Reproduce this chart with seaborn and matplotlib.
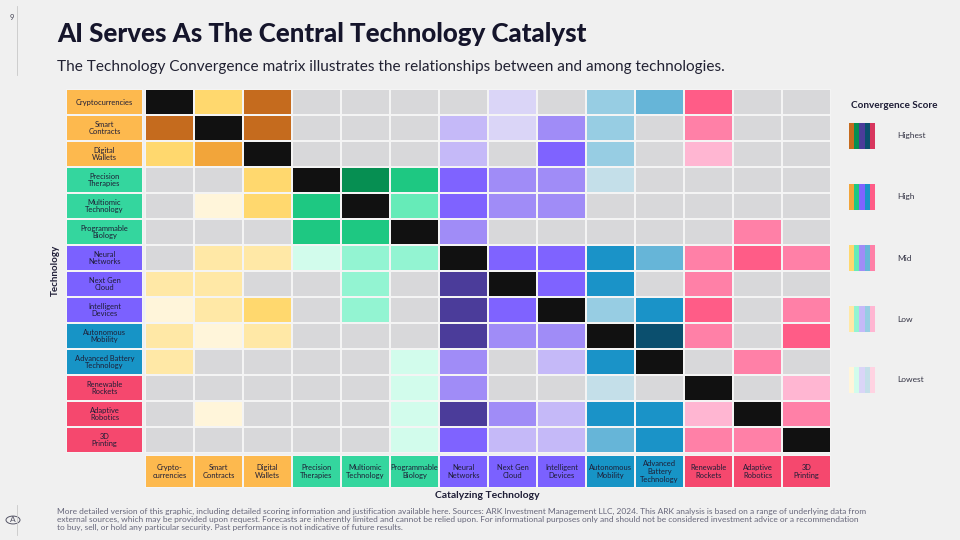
import numpy as np
import pandas as pd
import matplotlib.pyplot as plt
import seaborn as sns
from matplotlib.colors import ListedColormap
from matplotlib.patches import Rectangle, Circle
from matplotlib.lines import Line2D

# 데이터
row_labels = ['Cryptocurrencies', 'Smart\nContracts', 'Digital\nWallets', 'Precision\nTherapies',
              'Multiomic\nTechnology', 'Programmable\nBiology', 'Neural\nNetworks', 'Next Gen\nCloud',
              'Intelligent\nDevices', 'Autonomous\nMobility', 'Advanced Battery\nTechnology',
              'Renewable\nRockets', 'Adaptive\nRobotics', '3D\nPrinting']
col_labels = ['Crypto-\ncurrencies', 'Smart\nContracts', 'Digital\nWallets', 'Precision\nTherapies',
              'Multiomic\nTechnology', 'Programmable\nBiology', 'Neural\nNetworks', 'Next Gen\nCloud',
              'Intelligent\nDevices', 'Autonomous\nMobility', 'Advanced\nBattery\nTechnology',
              'Renewable\nRockets', 'Adaptive\nRobotics', '3D\nPrinting']
# 기술 그룹 (0 crypto, 1 bio, 2 AI, 3 mobility, 4 robotics/space)
tech_group = [0, 0, 0, 1, 1, 1, 2, 2, 2, 3, 3, 4, 4, 4]

# 점수: 0 없음, 1 Lowest ... 5 Highest (대각선은 자기 자신)
scores = [
    [0, 3, 5, 0, 0, 0, 0, 1, 0, 2, 3, 4, 0, 0],
    [5, 0, 5, 0, 0, 0, 2, 1, 3, 2, 0, 3, 0, 0],
    [3, 4, 0, 0, 0, 0, 2, 0, 4, 2, 0, 2, 0, 0],
    [0, 0, 3, 0, 5, 4, 4, 3, 3, 1, 0, 0, 0, 0],
    [0, 1, 3, 4, 0, 3, 4, 3, 3, 0, 0, 0, 0, 0],
    [0, 0, 0, 4, 4, 0, 3, 0, 0, 0, 0, 0, 3, 0],
    [0, 2, 2, 1, 2, 2, 0, 4, 4, 4, 3, 3, 4, 3],
    [2, 2, 0, 0, 2, 0, 5, 0, 4, 4, 0, 3, 0, 0],
    [1, 2, 3, 0, 2, 0, 5, 4, 0, 2, 4, 4, 0, 3],
    [2, 1, 2, 0, 0, 0, 5, 3, 3, 0, 5, 3, 0, 4],
    [2, 0, 0, 0, 0, 1, 3, 0, 2, 4, 0, 0, 3, 0],
    [0, 0, 0, 0, 0, 1, 3, 0, 0, 1, 0, 0, 0, 2],
    [0, 1, 0, 0, 0, 1, 5, 3, 2, 4, 4, 2, 0, 3],
    [0, 0, 0, 0, 0, 1, 4, 2, 2, 3, 4, 3, 3, 0],
]

level_names = ['Highest', 'High', 'Mid', 'Low', 'Lowest']

# 색상
group_colors = ['#FDB94E', '#34D69E', '#7B61FF', '#1794C6', '#F5486E']
group_palettes = [
    ['#FFF5DA', '#FFE8A6', '#FFD86E', '#F2A53A', '#C56B1E'],
    ['#D2FCEC', '#93F4D2', '#66EBB8', '#1EC882', '#068F52'],
    ['#DAD5F7', '#C5B9F8', '#A08CF7', '#7F63FF', '#4B3C9A'],
    ['#C4DFE9', '#97CDE3', '#66B5D8', '#1A93C8', '#0B4F6E'],
    ['#FFD3E2', '#FFB6D2', '#FF80A7', '#FF5C87', '#D8365E'],
]
gray = '#D8D8DA'
self_color = '#111111'
bg = '#F0F0F0'
text_dark = '#1E1D36'

plt.rcParams['font.family'] = ['Lato', 'DejaVu Sans']

# 색 코드 행렬 만들기
score_arr = np.array(scores)
n = len(row_labels)
codes = np.zeros((n, n), dtype=int)
for i in range(n):
    for j in range(n):
        if i == j:
            codes[i, j] = 26
        elif score_arr[i, j] > 0:
            codes[i, j] = 1 + tech_group[j] * 5 + score_arr[i, j] - 1
cell_colors = [gray] + [c for pal in group_palettes for c in pal] + [self_color]
cell_cmap = ListedColormap(cell_colors)
group_cmap = ListedColormap(group_colors)

df = pd.DataFrame(codes, index=row_labels, columns=col_labels)

W, H = 960, 540
def box(x0, y0, x1, y1):
    return [x0 / W, 1 - y1 / H, (x1 - x0) / W, (y1 - y0) / H]

fig = plt.figure(figsize=(9.6, 5.4), dpi=100, facecolor=bg)

# 메인 행렬
ax = fig.add_axes(box(145, 89, 831, 453))
sns.heatmap(df, ax=ax, cmap=cell_cmap, vmin=-0.5, vmax=26.5, cbar=False,
            linewidths=1.3, linecolor='#F4F4F4', square=False)
ax.set_xticks([]); ax.set_yticks([])
ax.set_xlabel(''); ax.set_ylabel('')

# 행 라벨
ax_r = fig.add_axes(box(66, 89, 143, 453))
sns.heatmap(np.array(tech_group).reshape(-1, 1), ax=ax_r, cmap=group_cmap, vmin=-0.5, vmax=4.5,
            cbar=False, linewidths=1.3, linecolor='#F4F4F4',
            annot=np.array(row_labels).reshape(-1, 1), fmt='',
            annot_kws={'fontsize': 5.4, 'color': text_dark, 'linespacing': 1.15})
ax_r.set_xticks([]); ax_r.set_yticks([])

# 열 라벨
ax_c = fig.add_axes(box(145, 455, 831, 488))
sns.heatmap(np.array(tech_group).reshape(1, -1), ax=ax_c, cmap=group_cmap, vmin=-0.5, vmax=4.5,
            cbar=False, linewidths=1.3, linecolor='#F4F4F4',
            annot=np.array(col_labels).reshape(1, -1), fmt='',
            annot_kws={'fontsize': 5.4, 'color': text_dark, 'linespacing': 1.15})
ax_c.set_xticks([]); ax_c.set_yticks([])

# 축 제목
fig.text(55 / W, 1 - 270 / H, 'Technology', rotation=90, ha='center', va='center',
         fontsize=7, fontweight='bold', color=text_dark)
fig.text(487 / W, 1 - 496 / H, 'Catalyzing Technology', ha='center', va='center',
         fontsize=7.5, fontweight='bold', color=text_dark)

# 범례
fig.text(851 / W, 1 - 105 / H, 'Convergence Score', ha='left', va='center',
         fontsize=7.2, fontweight='bold', color=text_dark)
legend_y = [136, 197, 258, 319, 380]
for k, name in enumerate(level_names):
    lvl = 4 - k
    yc = legend_y[k]
    for g in range(5):
        x0 = 849 + g * 5.2
        fig.add_artist(Rectangle((x0 / W, 1 - (yc + 13) / H), 5.2 / W, 26 / H,
                                 transform=fig.transFigure, color=group_palettes[g][lvl], lw=0))
    fig.text(897 / W, 1 - yc / H, name, ha='left', va='center', fontsize=6, color='#333344')

# 제목
fig.text(57 / W, 1 - 34 / H, 'AI Serves As The Central Technology Catalyst', ha='left', va='center',
         fontsize=18.6, fontweight=900, color='#15152B')
fig.text(57 / W, 1 - 67 / H,
         'The Technology Convergence matrix illustrates the relationships between and among technologies.',
         ha='left', va='center', fontsize=11.1, color='#222233')
fig.text(10 / W, 1 - 18 / H, '9', ha='left', va='center', fontsize=5.5, color='#444455')
fig.add_artist(Line2D([17 / W, 17 / W], [1 - 6 / H, 1 - 75 / H], transform=fig.transFigure,
                      color='#C8C8C8', lw=0.6))
fig.add_artist(Line2D([17 / W, 17 / W], [1 - 505 / H, 1 - 535 / H], transform=fig.transFigure,
                      color='#C8C8C8', lw=0.6))

# 로고
fig.add_artist(Circle((13 / W, 1 - 520 / H), 7 / W, transform=fig.transFigure,
                      fill=False, ec='#555566', lw=0.7))
fig.text(13 / W, 1 - 520 / H, 'A', ha='center', va='center', fontsize=6, color='#555566')

# 각주
footer = ('More detailed version of this graphic, including detailed scoring information and justification available here. '
          'Sources: ARK Investment Management LLC, 2024. This ARK analysis is based on a range of underlying data from\n'
          'external sources, which may be provided upon request. Forecasts are inherently limited and cannot be relied upon. '
          'For informational purposes only and should not be considered investment advice or a recommendation\n'
          'to buy, sell, or hold any particular security. Past performance is not indicative of future results.')
fig.text(57 / W, 1 - 508 / H, footer, ha='left', va='top', fontsize=6.0, color='#66667A', linespacing=1.15)

fig.savefig('out.png', dpi=100, facecolor=bg)
